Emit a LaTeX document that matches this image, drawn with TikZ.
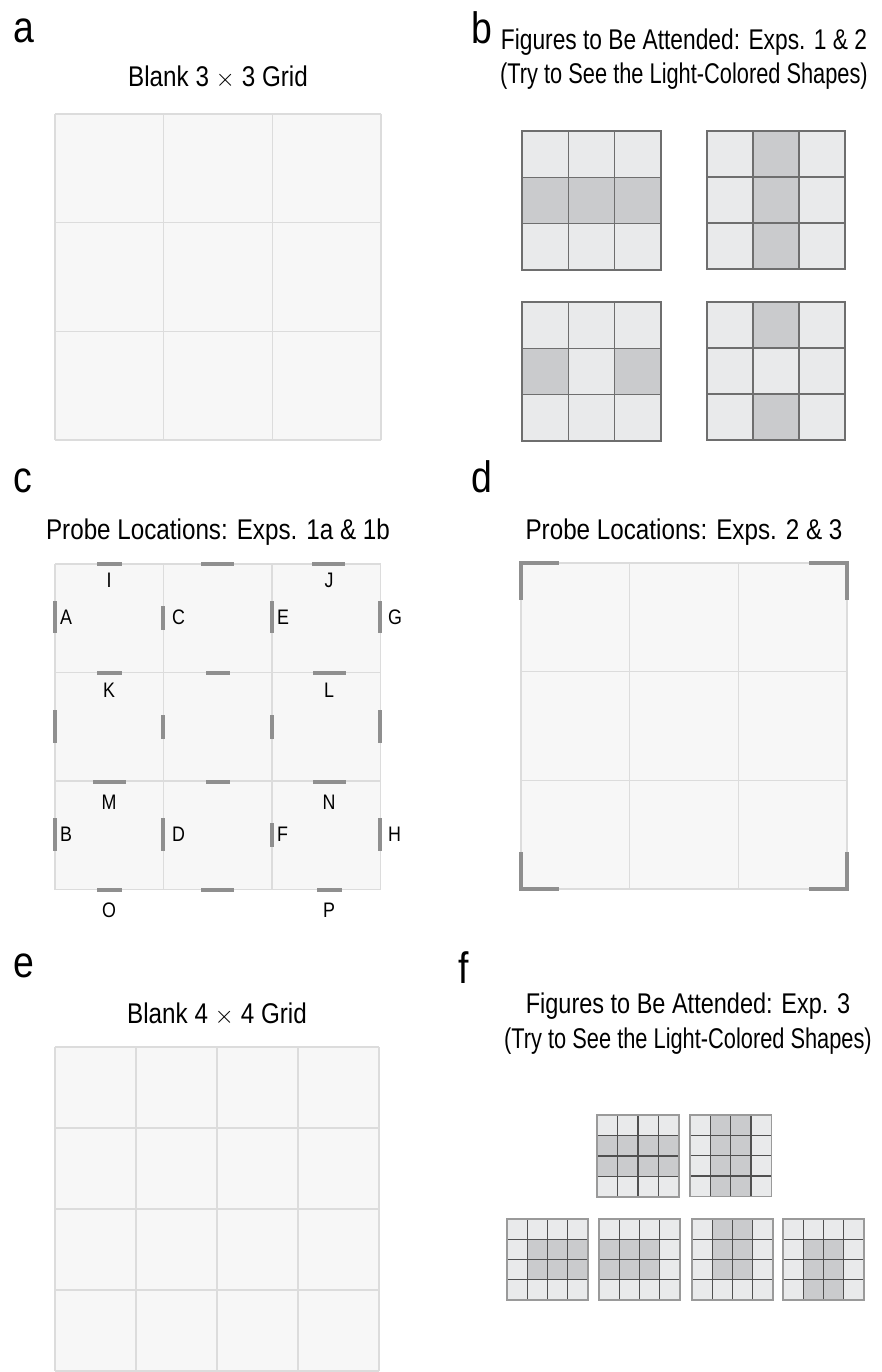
\documentclass[tikz,border=0pt]{standalone}
\usepackage{fontspec}
\setmainfont{Liberation Sans}[FakeStretch=0.85]
\definecolor{gridfill}{HTML}{F7F7F7}
\definecolor{gridline}{HTML}{DCDCDC}
\definecolor{probec}{HTML}{8F8F8F}
\definecolor{lightc}{HTML}{E9EAEB}
\definecolor{darkc}{HTML}{CACBCD}
\definecolor{bline}{HTML}{6E6E6E}
\definecolor{fouter}{HTML}{9A9A9A}
\definecolor{finner}{HTML}{505050}
\tikzset{
  gline/.style={draw=gridline,line width=1.5pt},
  probe/.style={draw=probec,line width=4.5pt},
  panel/.style={anchor=base west,inner sep=0pt,font=\fontsize{44}{44}\selectfont},
  title/.style={anchor=base,inner sep=0pt,font=\fontsize{28.5}{30}\selectfont},
  lab/.style={inner sep=0pt,font=\fontsize{21}{22}\selectfont},
}
\newcommand{\blankgrid}[4]{% x0, y0, size, n
  \fill[gridfill] (#1,#2) rectangle ++(#3,#3);
  \foreach \i in {0,...,#4}{
    \draw[gline] ({#1+\i*#3/#4},#2) -- ++(0,#3);
    \draw[gline] (#1,{#2+\i*#3/#4}) -- ++(#3,0);
  }
}
\newcommand{\patgrid}[7]{% x0, y0, cell, n, dark list c/r, outer style, inner style
  \fill[lightc] (#1,#2) rectangle ++({#3*#4},{#3*#4});
  \foreach \c/\r in {#5} \fill[darkc] ({#1+\c*#3},{#2+\r*#3}) rectangle ++(#3,#3);
  \pgfmathtruncatemacro{\nm}{#4-1}
  \foreach \i in {1,...,\nm}{
    \draw[#7] ({#1+\i*#3},#2) -- ++(0,{#3*#4});
    \draw[#7] (#1,{#2+\i*#3}) -- ++({#3*#4},0);
  }
  \draw[#6] (#1,#2) rectangle ++({#3*#4},{#3*#4});
}
\begin{document}
\begin{tikzpicture}[x=1pt,y=-1pt]
\useasboundingbox[fill=white] (0,0) rectangle (881,1372);

% ---------- panel letters
\node[panel] (la) at (13,43) {a};
\node[panel] (lb) at (471,44) {b};
\node[panel] (lc) at (13,492) {c};
\node[panel] (ld) at (471,492) {d};
\node[panel] (le) at (13,977) {e};
\node[panel] (lf) at (458,983) {f};

% ---------- titles
\node[title] (ta) at (218,87) {Blank 3 $\times$ 3 Grid};
\node[title] (tb1) at (684,50) {\scalebox{0.94}[1]{Figures to Be Attended: Exps. 1 \& 2}};
\node[title] (tb2) at (684,84) {\scalebox{0.9}[1]{(Try to See the Light-Colored Shapes)}};
\node[title] (tc) at (218,539) {Probe Locations: Exps. 1a \& 1b};
\node[title] (td) at (684,539) {Probe Locations: Exps. 2 \& 3};
\node[title] (te) at (217,1023) {Blank 4 $\times$ 4 Grid};
\node[title] (tf1) at (688,1013) {\scalebox{0.97}[1]{Figures to Be Attended: Exp. 3}};
\node[title] (tf2) at (688,1048) {\scalebox{0.9}[1]{(Try to See the Light-Colored Shapes)}};

% ---------- panel a
\blankgrid{55}{114}{326}{3}

% ---------- panel b
\tikzset{bl/.style={draw=bline,line width=1.5pt}}
\patgrid{522}{131}{46.33}{3}{0/1,1/1,2/1}{bl}{bl}
\patgrid{707}{131}{46.0}{3}{1/0,1/1,1/2}{bl}{bl}
\patgrid{522}{302}{46.33}{3}{0/1,2/1}{bl}{bl}
\patgrid{707}{302}{46.0}{3}{1/0,1/2}{bl}{bl}

% ---------- panel c
\blankgrid{55}{564}{325.5}{3}
% vertical marks
\draw[probe] (55,601) -- (55,633);
\draw[probe] (163,606) -- (163,630);
\draw[probe] (272,601) -- (272,633);
\draw[probe] (380,601) -- (380,633);
\draw[probe] (55,710) -- (55,743);
\draw[probe] (163,715) -- (163,739);
\draw[probe] (272,715) -- (272,739);
\draw[probe] (380,710) -- (380,743);
\draw[probe] (55,818) -- (55,851);
\draw[probe] (163,818) -- (163,851);
\draw[probe] (272,823) -- (272,847);
\draw[probe] (380,818) -- (380,851);
% horizontal marks
\draw[probe] (97,564) -- (122,564);
\draw[probe] (201,564) -- (234,564);
\draw[probe] (312,564) -- (345,564);
\draw[probe] (97,673) -- (122,673);
\draw[probe] (206,673) -- (230,673);
\draw[probe] (313,673) -- (346,673);
\draw[probe] (93,782) -- (126,782);
\draw[probe] (206,782) -- (230,782);
\draw[probe] (313,782) -- (346,782);
\draw[probe] (97,890) -- (122,890);
\draw[probe] (201,890) -- (234,890);
\draw[probe] (317,890) -- (342,890);
% labels
\node[lab] (pI) at (109,580) {I};
\node[lab] (pJ) at (329,580) {J};
\node[lab,anchor=west] (pA) at (60,617) {A};
\node[lab,anchor=west] (pC) at (172,617) {C};
\node[lab,anchor=west] (pE) at (277,617) {E};
\node[lab,anchor=west] (pG) at (388,617) {G};
\node[lab] (pK) at (109,690) {K};
\node[lab] (pL) at (329,690) {L};
\node[lab] (pM) at (109,802) {M};
\node[lab] (pN) at (329,802) {N};
\node[lab,anchor=west] (pB) at (60,834) {B};
\node[lab,anchor=west] (pD) at (172,834) {D};
\node[lab,anchor=west] (pF) at (277,834) {F};
\node[lab,anchor=west] (pH) at (388,834) {H};
\node[lab] (pO) at (109,910) {O};
\node[lab] (pP) at (329,910) {P};

% ---------- panel d
\blankgrid{521}{563}{326}{3}
\draw[probe,line cap=rect] (521,598) -- (521,563) -- (557,563);
\draw[probe,line cap=rect] (811,563) -- (847,563) -- (847,598);
\draw[probe,line cap=rect] (521,854) -- (521,889) -- (557,889);
\draw[probe,line cap=rect] (811,889) -- (847,889) -- (847,854);

% ---------- panel e
\blankgrid{55}{1047}{324}{4}

% ---------- panel f
\tikzset{fo/.style={draw=fouter,line width=1.4pt},fi/.style={draw=finner,line width=1.2pt}}
\patgrid{597}{1115}{20.5}{4}{0/1,1/1,2/1,3/1,0/2,1/2,2/2,3/2}{fo}{fi}
\patgrid{690}{1115}{20.3}{4}{1/0,2/0,1/1,2/1,1/2,2/2,1/3,2/3}{fo}{fi}
\patgrid{507}{1219}{20.2}{4}{1/1,2/1,3/1,1/2,2/2,3/2}{fo}{fi}
\patgrid{599}{1219}{20.2}{4}{0/1,1/1,2/1,0/2,1/2,2/2}{fo}{fi}
\patgrid{692}{1219}{20.2}{4}{1/0,2/0,1/1,2/1,1/2,2/2}{fo}{fi}
\patgrid{783}{1219}{20.2}{4}{1/1,2/1,1/2,2/2,1/3,2/3}{fo}{fi}
\end{tikzpicture}
\end{document}
